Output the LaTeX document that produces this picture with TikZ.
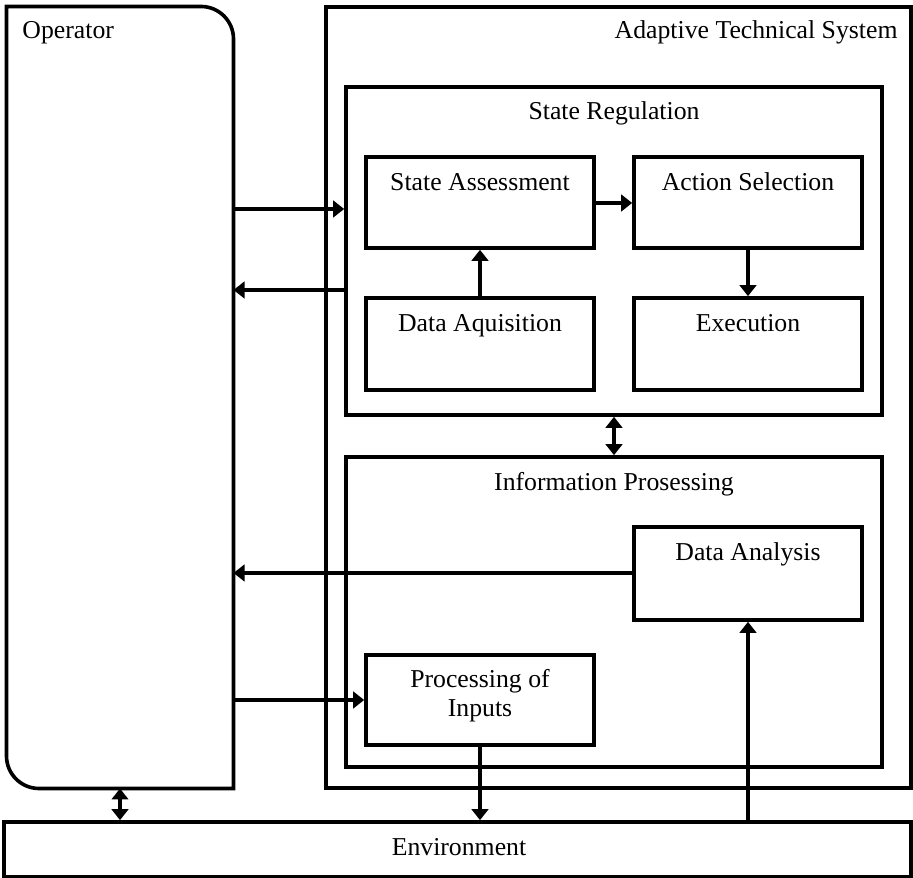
\documentclass[tikz,border=0pt]{standalone}
\usepackage{fontspec}
\setmainfont{Liberation Serif}
\usetikzlibrary{arrows.meta,fit}
\begin{document}
\begin{tikzpicture}[x=0.4pt,y=0.4pt,
  box/.style={draw, line width=1.45pt, inner sep=0pt},
  lbl/.style={font=\fontsize{10.3}{11.6}\selectfont, anchor=base, inner sep=0pt},
  tip/.tip={Triangle[length=4.4pt,width=6.6pt]},
  arr/.style={line width=1.25pt, -tip},
  darr/.style={line width=1.25pt, tip-tip}
]
\useasboundingbox (0,0) rectangle (913,878);

% operator block with two rounded corners
\node[inner sep=0pt, fit={(7,90) (233,871)}] (op) {};
\draw[line width=1.45pt] (op.north west) -- ([xshift=-13pt]op.north east)
  arc[start angle=90, end angle=0, radius=13pt] -- (op.south east)
  -- ([xshift=13pt]op.south west)
  arc[start angle=270, end angle=180, radius=13pt] -- cycle;
\node[lbl, anchor=base west] at (22,839) {Operator};

% adaptive technical system
\node[box, fit={(326,90) (911,871)}] (ats) {};
\node[lbl, anchor=base east] at (898,839) {Adaptive Technical System};

% state regulation
\node[box, fit={(346,463) (882,791)}] (sr) {};
\node[lbl] at (614,758) {State Regulation};
\node[box, fit={(366,630) (594,721)}] (sa) {};
\node[lbl] at (480,687) {State Assessment};
\node[box, fit={(634,630) (862,721)}] (as) {};
\node[lbl] at (748,687) {Action Selection};
\node[box, fit={(366,488) (594,580)}] (dq) {};
\node[lbl] at (480,546) {Data Aquisition};
\node[box, fit={(634,488) (862,580)}] (ex) {};
\node[lbl] at (748,546) {Execution};

% information processing
\node[box, fit={(346,111) (882,421)}] (ip) {};
\node[lbl] at (614,387) {Information Prosessing};
\node[box, fit={(634,258) (862,351)}] (da) {};
\node[lbl] at (748,317) {Data Analysis};
\node[box, fit={(366,133) (594,223)}] (pi) {};
\node[lbl, align=center] at (480,161) {Processing of\\Inputs};

% environment
\node[box, fit={(4,1) (911,56)}] (env) {};
\node[lbl] at (459,22) {Environment};

% connectors
\draw[arr] (op.east |- 0,669) -- (sr.west |- 0,669);
\draw[arr] (sr.west |- 0,588) -- (op.east |- 0,588);
\draw[arr] (sa.east |- 0,675) -- (as.west |- 0,675);
\draw[arr] (dq.north) -- (sa.south);
\draw[arr] (as.south) -- (ex.north);
\draw[darr] (sr.south) -- (ip.north);
\draw[arr] (da.west |- 0,305) -- (op.east |- 0,305);
\draw[arr] (op.east |- 0,178) -- (pi.west |- 0,178);
\draw[arr] (pi.south) -- (pi.south |- env.north);
\draw[arr] (da.south |- env.north) -- (da.south);
\draw[darr] (op.south) -- (op.south |- env.north);
\end{tikzpicture}
\end{document}
